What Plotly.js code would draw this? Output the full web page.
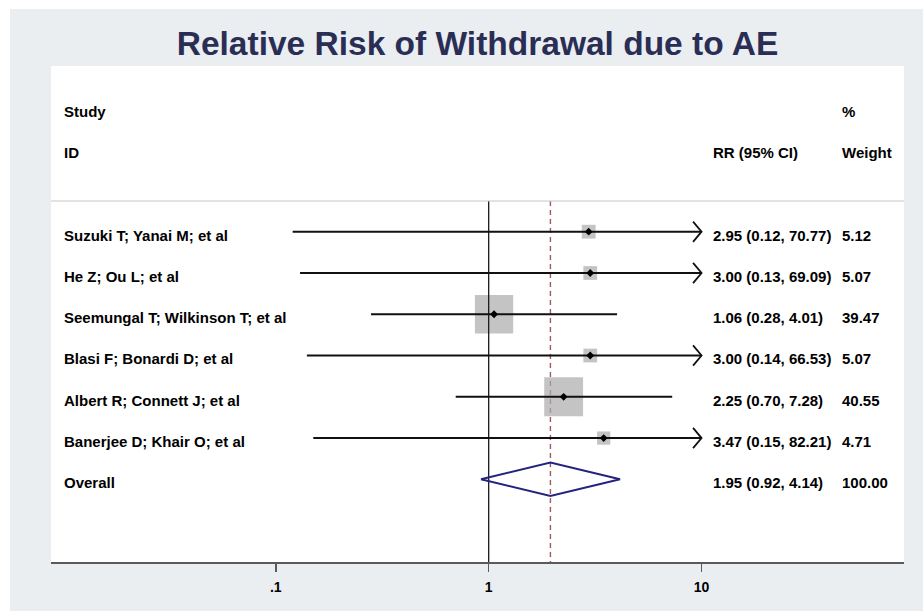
<!DOCTYPE html>
<html><head><meta charset="utf-8">
<script src="https://cdn.plot.ly/plotly-3.0.1.min.js"></script>
<style>
html,body{margin:0;padding:0;background:#ffffff;width:923px;height:611px;overflow:hidden}
#chart{position:absolute;left:10px;top:9px;width:913px;height:602px}
</style>
</head><body><div id="chart"></div>
<script>
// ---- data ----
const studies = ["Suzuki T; Yanai M; et al", "He Z; Ou L; et al", "Seemungal T; Wilkinson T; et al",
  "Blasi F; Bonardi D; et al", "Albert R; Connett J; et al", "Banerjee D; Khair O; et al"];
const rr = [2.95, 3.00, 1.06, 3.00, 2.25, 3.47];
const ciLow = [0.12, 0.13, 0.28, 0.14, 0.70, 0.15];
const ciHigh = [70.77, 69.09, 4.01, 66.53, 7.28, 82.21];
const weights = [5.12, 5.07, 39.47, 5.07, 40.55, 4.71];
const overallLabel = "Overall";
const overallRR = 1.95, overallLow = 0.92, overallHigh = 4.14, overallWeight = 100.00;
const tickVals = [0.1, 1, 10];
const tickText = [".1", "1", "10"];

// ---- layout constants ----
const FONT = "'Liberation Sans', Arial, Helvetica, sans-serif";
const rows = studies.map((_, i) => i + 1);
const overallRow = studies.length + 1;
const sepRow = 0.256;
const yTop = -3.015, yBottom = 9.003;
const clipMax = tickVals[tickVals.length - 1];
const diamondHalf = 0.405;
const txtShift = -3.3;
const arrowDepth = Math.pow(10, -8.5 / 213); // chevron depth as a log-scale ratio
const arrowHalf = 0.245;                      // chevron half height in row units

const traces = [];
// dashed line at overall estimate
traces.push({x: [overallRR, overallRR], y: [sepRow, yBottom], mode: 'lines',
  line: {color: '#a05a5e', width: 1.4, dash: '5px,4px'}, hoverinfo: 'skip'});
// weight boxes
traces.push({x: rr, y: rows, mode: 'markers',
  marker: {symbol: 'square', size: weights.map(w => 6.1 * Math.sqrt(w)), color: '#ababab', line: {width: 0}},
  hoverinfo: 'skip'});
// null line
traces.push({x: [1, 1], y: [sepRow, yBottom], mode: 'lines', line: {color: '#1a1a1a', width: 1.3}, hoverinfo: 'skip'});
// CI lines
const cx = [], cy = [];
rows.forEach((r, i) => { cx.push(ciLow[i], Math.min(ciHigh[i], clipMax), null); cy.push(r, r, null); });
traces.push({x: cx, y: cy, mode: 'lines', line: {color: '#111111', width: 2}, hoverinfo: 'skip'});
// open chevrons where CI is clipped
const ax = [], ay = [];
rows.forEach((r, i) => {
  if (ciHigh[i] > clipMax) {
    ax.push(clipMax * arrowDepth, clipMax, clipMax * arrowDepth, null);
    ay.push(r - arrowHalf, r, r + arrowHalf, null);
  }
});
traces.push({x: ax, y: ay, mode: 'lines', line: {color: '#111111', width: 1.8}, hoverinfo: 'skip'});
// point estimates
traces.push({x: rr, y: rows, mode: 'markers', marker: {symbol: 'diamond', size: 6, color: '#000'}, hoverinfo: 'skip'});
// overall diamond
traces.push({x: [overallLow, overallRR, overallHigh, overallRR, overallLow],
  y: [overallRow, overallRow - diamondHalf, overallRow, overallRow + diamondHalf, overallRow],
  mode: 'lines', line: {color: '#24247e', width: 2}, hoverinfo: 'skip'});

const ann = [];
const xLab = 0.0129, xCI = 0.7733, xW = 0.9244;
function txt(x, y, s) {
  ann.push({xref: 'paper', yref: 'y', x: x, y: y, text: s, showarrow: false, xanchor: 'left', yanchor: 'middle',
    yshift: txtShift, font: {family: FONT, size: 15, color: '#000', weight: 'bold'}});
}
txt(xLab, -2, 'Study'); txt(xLab, -1, 'ID');
txt(xW, -2, '%'); txt(xCI, -1, 'RR (95% CI)'); txt(xW, -1, 'Weight');
rows.forEach((r, i) => {
  txt(xLab, r, studies[i]);
  txt(xCI, r, rr[i].toFixed(2) + ' (' + ciLow[i].toFixed(2) + ', ' + ciHigh[i].toFixed(2) + ')');
  txt(xW, r, weights[i].toFixed(2));
});
txt(xLab, overallRow, overallLabel);
txt(xCI, overallRow, overallRR.toFixed(2) + ' (' + overallLow.toFixed(2) + ', ' + overallHigh.toFixed(2) + ')');
txt(xW, overallRow, overallWeight.toFixed(2));

const layout = {
  width: 913, height: 602,
  paper_bgcolor: '#eaeef1', plot_bgcolor: '#ffffff',
  margin: {l: 41, r: 18.5, t: 57, b: 49},
  showlegend: false,
  font: {family: FONT},
  title: {text: 'Relative Risk of Withdrawal due to AE', x: 0.5, xref: 'paper', y: 1 - 34 / 602, yref: 'container',
    yanchor: 'middle', font: {family: FONT, size: 33.5, color: '#2a2e55', weight: 'bold'}},
  xaxis: {type: 'log', range: [-2.056, 1.951], tickvals: tickVals, ticktext: tickText, ticks: 'outside',
    ticklen: 8, tickwidth: 1.5, tickcolor: '#5a5a5a', showline: true, linecolor: '#5a5a5a', linewidth: 2,
    showgrid: false, zeroline: false, ticklabelstandoff: 3,
    tickfont: {family: FONT, size: 14, color: '#000', weight: 'bold'}},
  yaxis: {range: [yBottom, yTop], visible: false, showgrid: false, zeroline: false},
  shapes: [{type: 'line', xref: 'paper', yref: 'y', x0: 0, x1: 1, y0: sepRow, y1: sepRow,
    line: {color: '#c8c8c8', width: 1.2}}],
  annotations: ann
};
Plotly.newPlot('chart', traces, layout, {displayModeBar: false, staticPlot: true});
</script>
</body></html>
